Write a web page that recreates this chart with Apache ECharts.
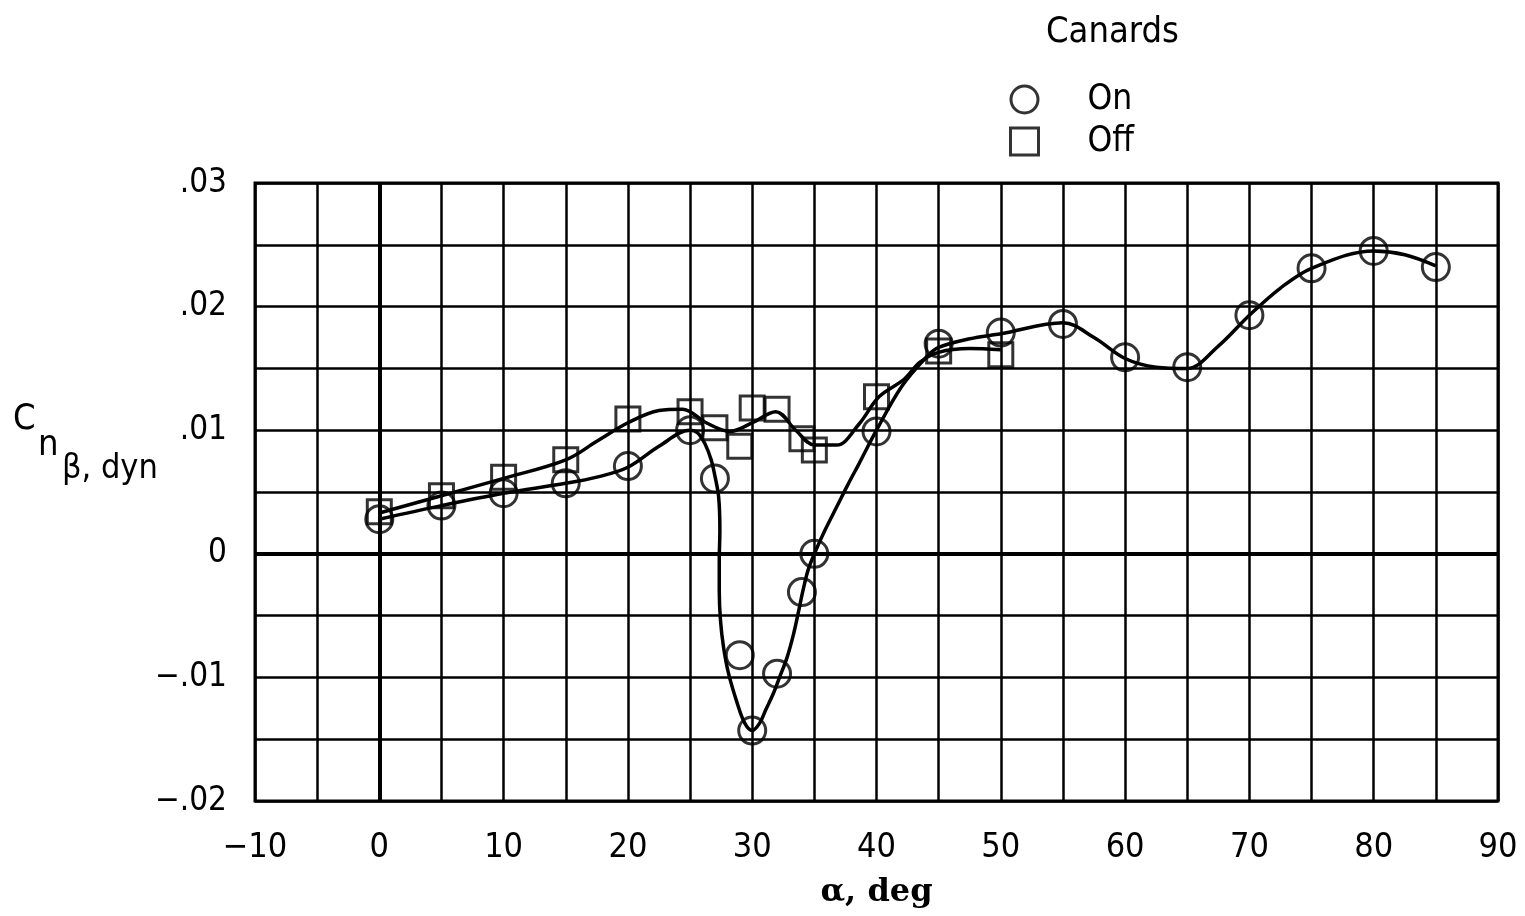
<!DOCTYPE html>
<html>
<head>
<meta charset="utf-8">
<script src="https://cdn.jsdelivr.net/npm/echarts@6/dist/echarts.min.js"></script>
<style>
  html, body { margin: 0; padding: 0; background: #fff; }
  #chart { width: 1525px; height: 916px; }
</style>
</head>
<body>
<div id="chart"></div>
<script>
// measured points, canards on (circles)
var alphaOn = [0, 5, 10, 15, 20, 25, 27, 29, 30, 32, 34, 35, 40, 45, 50, 55, 60, 65, 70, 75, 80, 85];
var cnOn = [0.0028, 0.0039, 0.0049, 0.0057, 0.0071, 0.0100, 0.0061, -0.0082, -0.0143, -0.0097, -0.0031, 0.0000,
            0.0099, 0.0170, 0.0179, 0.0186, 0.0159, 0.0151, 0.0193, 0.0231, 0.0245, 0.0232];

// measured points, canards off (squares)
var alphaOff = [0, 5, 10, 15, 20, 25, 27, 29, 30, 32, 34, 35, 40, 45, 50];
var cnOff = [0.0034, 0.0047, 0.0062, 0.0076, 0.0109, 0.0115, 0.0102, 0.0087, 0.0118, 0.0117, 0.0093, 0.0084,
             0.0127, 0.0164, 0.0161];

// faired curves
var fairOnA = [0, 5, 10, 15, 17.5, 20, 22.5, 25, 25.6, 26.2, 26.7, 27.0, 27.3, 27.4, 27.35, 27.35, 27.45, 27.7,
               28.1, 28.8, 29.4, 30, 30.6, 31.1, 31.7, 32.2, 32.8, 33.3, 33.7, 34.1, 34.5, 35, 35.9, 36.8, 37.7,
               38.6, 40, 42, 44, 45, 47.5, 50, 55, 57.5, 60, 62.5, 65, 67.5, 70, 72.5, 75, 80, 82.5, 85];
var fairOnC = [0.0028, 0.0039, 0.0049, 0.0057, 0.0062, 0.0070, 0.0087, 0.0100, 0.0098, 0.0089, 0.0076, 0.0063,
               0.0046, 0.0019, -0.0005, -0.0030, -0.0054, -0.0076, -0.0097, -0.0121, -0.0137, -0.0143, -0.0137,
               -0.0126, -0.0113, -0.0100, -0.0084, -0.0066, -0.0048, -0.0029, -0.0013, 0.0000, 0.0020, 0.0038,
               0.0056, 0.0073, 0.0100, 0.0135, 0.0159, 0.0167, 0.0174, 0.0178, 0.0187, 0.0175, 0.0158, 0.0151,
               0.0150, 0.0168, 0.0193, 0.0215, 0.0231, 0.0245, 0.0242, 0.0233];

var fairOffA = [0, 5, 10, 15, 17.5, 20, 22.5, 24.4, 26.3, 28.2, 30, 31.9, 33.5, 35, 36.8, 38.6, 40.2, 42.2,
                43.5, 45, 47.5, 50];
var fairOffC = [0.0033, 0.0047, 0.0061, 0.0076, 0.0091, 0.0106, 0.0116, 0.0117, 0.0106, 0.0099, 0.0106, 0.0115,
                0.0100, 0.0088, 0.0088, 0.0105, 0.0127, 0.0141, 0.0155, 0.0163, 0.0166, 0.0165];

var xTickLabels = ['\u221210', '0', '10', '20', '30', '40', '50', '60', '70', '80', '90'];
var yTickLabels = ['\u2212.02', '\u2212.01', '0', '.01', '.02', '.03'];

function zip(a, b) {
    return a.map(function (v, i) { return [v, b[i]]; });
}

var labelFont = "'DejaVu Sans Condensed', 'Liberation Sans Narrow', 'DejaVu Sans', sans-serif";

var myChart = echarts.init(document.getElementById('chart'));

var option = {
    animation: false,
    backgroundColor: '#fff',
    title: {
        text: 'Canards',
        left: 1041,
        top: 10,
        textStyle: { fontFamily: labelFont, fontSize: 36, fontWeight: 'normal', color: '#000' }
    },
    legend: {
        data: [{ name: 'On', icon: 'circle' }, { name: 'Off', icon: 'rect' }],
        orient: 'vertical',
        left: 1004,
        top: 77,
        itemWidth: 28,
        itemHeight: 27,
        itemGap: 7,
        itemStyle: { color: 'rgba(255,255,255,0)', borderColor: '#000', borderWidth: 3 },
        textStyle: { fontFamily: labelFont, fontSize: 35, color: '#000', padding: [0, 0, 0, 44] }
    },
    grid: {
        left: 255,
        right: 27,
        top: 183,
        bottom: 115,
        show: true,
        borderColor: '#000',
        borderWidth: 3
    },
    xAxis: {
        type: 'value',
        min: -10,
        max: 90,
        interval: 5,
        name: '\u03b1, deg',
        nameLocation: 'middle',
        nameGap: 76,
        nameTextStyle: { fontFamily: "'DejaVu Serif', 'Liberation Serif', serif", fontWeight: 'bold', fontSize: 32, color: '#000' },
        axisLine: { show: false },
        axisTick: { show: false },
        splitLine: { show: true, lineStyle: { color: '#000', width: 2.5 } },
        axisLabel: {
            margin: 30,
            fontFamily: labelFont,
            fontSize: 34,
            color: '#000',
            formatter: function (v) {
                var i = Math.round((v + 10) / 10);
                return (Math.abs(v % 10) < 1e-6) ? xTickLabels[i] : '';
            }
        }
    },
    yAxis: {
        type: 'value',
        min: -0.02,
        max: 0.03,
        interval: 0.005,
        axisLine: { show: false },
        axisTick: { show: false },
        splitLine: { show: true, lineStyle: { color: '#000', width: 2.5 } },
        axisLabel: {
            margin: 28,
            fontFamily: labelFont,
            fontSize: 33,
            color: '#000',
            formatter: function (v) {
                var k = v * 100;
                if (Math.abs(k - Math.round(k)) > 1e-6) return '';
                return yTickLabels[Math.round(k) + 2];
            }
        }
    },
    graphic: [
        { type: 'text', left: 13, top: 402, style: { text: 'C', fontFamily: labelFont, fontSize: 36, fill: '#000' } },
        { type: 'text', left: 38, top: 428, style: { text: 'n', fontFamily: labelFont, fontSize: 36, fill: '#000' } },
        { type: 'text', left: 62, top: 452, style: { text: '\u03b2, dyn', fontFamily: labelFont, fontSize: 34, fill: '#000' } }
    ],
    series: [
        {
            name: 'fairOff',
            type: 'line',
            data: zip(fairOffA, fairOffC),
            smooth: 0.35,
            showSymbol: false,
            lineStyle: { color: '#000', width: 3.5 },
            z: 3,
            markLine: {
                silent: true,
                symbol: 'none',
                label: { show: false },
                lineStyle: { color: '#000', width: 4, type: 'solid' },
                data: [{ xAxis: 0 }, { yAxis: 0 }]
            }
        },
        {
            name: 'fairOn',
            type: 'line',
            data: zip(fairOnA, fairOnC),
            smooth: 0.35,
            showSymbol: false,
            lineStyle: { color: '#000', width: 3.5 },
            z: 3
        },
        {
            name: 'On',
            type: 'scatter',
            data: zip(alphaOn, cnOn),
            symbol: 'circle',
            symbolSize: 27,
            itemStyle: { color: 'rgba(255,255,255,0)', borderColor: '#000', borderWidth: 3 },
            z: 5
        },
        {
            name: 'Off',
            type: 'scatter',
            data: zip(alphaOff, cnOff),
            symbol: 'rect',
            symbolSize: 24,
            itemStyle: { color: 'rgba(255,255,255,0)', borderColor: '#000', borderWidth: 3 },
            z: 4
        }
    ]
};

option && myChart.setOption(option);
</script>
</body>
</html>
